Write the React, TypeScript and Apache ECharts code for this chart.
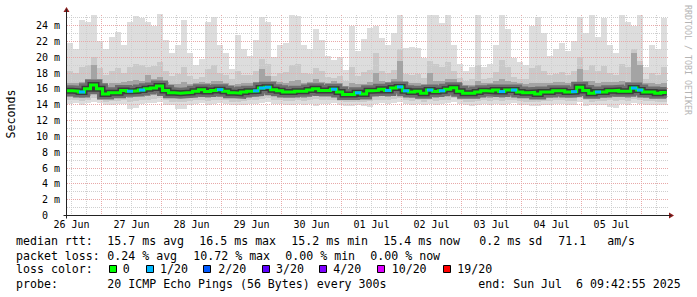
import React, { useEffect, useRef } from 'react';
import * as echarts from 'echarts';

// time in hours after 26 Jun 00:00; each column is 2.4 h
const T0 = 10;
const STEP = 2.4;
const X_END = 251.64;
const Y_MAX = 26;
const Y_TOP = 25.3;

const dayHours = [12, 36, 60, 84, 108, 132, 156, 180, 204, 228];
const dayLabels = ['26 Jun', '27 Jun', '28 Jun', '29 Jun', '30 Jun', '01 Jul', '02 Jul', '03 Jul', '04 Jul', '05 Jul'];

const gridHours = [12, 18, 24, 30, 36, 42, 48, 54, 60, 66, 72, 78, 84, 90, 96, 102, 108, 114, 120, 126, 132, 138, 144, 150, 156, 162, 168, 174, 180, 186, 192, 198, 204, 210, 216, 222, 228, 234, 240, 246];
const gridValues = [1, 2, 3, 4, 5, 6, 7, 8, 9, 10, 11, 12, 13, 14, 15, 16, 17, 18, 19, 20, 21, 22, 23, 24, 25];

// milliseconds
const maxv = [
  21.8, 21.0, 24.7, 24.5, 25.3, 22.0, 21.0, 22.6, 23.2, 21.5,
  24.5, 25.2, 25.0, 24.5, 24.0, 25.4, 22.2, 20.5, 21.6, 24.7,
  20.5, 19.0, 19.8, 24.5, 25.1, 21.5, 20.5, 18.5, 22.8, 21.0,
  20.2, 22.2, 25.1, 24.5, 20.0, 21.6, 21.8, 25.3, 25.2, 21.5,
  21.0, 23.5, 22.2, 20.2, 19.6, 20.0, 18.4, 23.9, 20.8, 22.3,
  23.7, 23.9, 22.4, 21.5, 23.0, 25.3, 21.1, 21.3, 21.1, 19.9,
  25.3, 25.3, 24.3, 25.3, 21.5, 19.1, 18.3, 18.8, 25.3, 18.7,
  19.2, 21.5, 25.3, 23.5, 19.9, 19.4, 19.0, 24.0, 25.1, 23.0,
  20.2, 21.0, 21.8, 20.8, 22.0, 25.1, 23.0, 25.3, 22.5, 24.9,
  21.5, 20.5, 25.3, 24.5, 24.0, 25.3, 18.8, 21.6, 21.0, 24.9,
];
const hi2 = [
  18.2, 18.0, 18.8, 19.0, 20.0, 18.6, 17.8, 18.3, 18.6, 18.0,
  18.8, 19.2, 19.0, 18.7, 18.9, 19.4, 18.2, 17.6, 17.9, 18.8,
  17.6, 17.3, 17.5, 18.5, 19.0, 18.0, 17.8, 17.2, 18.3, 17.8,
  17.7, 18.2, 19.8, 19.2, 17.6, 18.0, 18.1, 19.0, 19.2, 18.0,
  17.9, 18.6, 18.2, 17.5, 17.4, 17.6, 17.0, 18.7, 17.6, 18.1,
  18.4, 20.5, 18.3, 18.0, 18.4, 21.0, 17.9, 17.8, 17.9, 17.4,
  19.5, 19.2, 18.8, 19.4, 18.2, 17.4, 17.0, 17.2, 19.0, 17.2,
  17.4, 18.1, 19.6, 18.7, 17.5, 17.3, 17.2, 18.6, 19.0, 18.3,
  17.7, 17.9, 18.1, 17.8, 18.3, 20.0, 18.4, 19.0, 18.2, 18.9,
  18.0, 17.7, 19.2, 18.8, 21.0, 19.5, 17.2, 18.0, 17.8, 18.7,
];
const hi3 = [
  16.8, 16.7, 16.9, 17.2, 19.0, 17.2, 16.5, 16.7, 16.8, 16.9,
  17.0, 17.1, 17.0, 17.8, 17.2, 17.5, 16.9, 16.6, 16.6, 16.9,
  16.6, 16.7, 16.9, 16.8, 17.0, 17.0, 16.8, 16.5, 16.6, 16.7,
  16.8, 16.9, 18.5, 17.6, 17.0, 16.9, 16.7, 17.0, 17.1, 16.8,
  16.9, 17.2, 16.9, 16.8, 17.0, 16.7, 16.4, 16.7, 16.6, 16.6,
  16.9, 18.0, 17.0, 16.9, 17.3, 19.5, 16.9, 16.7, 16.8, 16.5,
  18.0, 17.0, 17.0, 17.2, 17.3, 16.8, 16.5, 16.5, 17.0, 16.8,
  16.7, 17.0, 17.2, 17.0, 16.9, 16.7, 16.6, 16.8, 16.7, 16.8,
  16.7, 16.9, 16.9, 16.7, 16.9, 18.5, 17.0, 17.0, 16.8, 16.9,
  16.9, 16.9, 17.0, 16.9, 20.5, 19.0, 16.7, 16.8, 16.6, 16.8,
];
const median = [
  15.75, 15.7, 15.6, 16.0, 16.5, 16.0, 15.35, 15.5, 15.5, 15.8,
  15.7, 15.75, 15.85, 16.0, 16.1, 16.35, 15.8, 15.5, 15.45, 15.5,
  15.55, 15.7, 15.9, 15.65, 15.8, 15.9, 15.7, 15.5, 15.45, 15.6,
  15.7, 15.75, 16.1, 16.2, 15.9, 15.75, 15.6, 15.6, 15.7, 15.7,
  15.85, 16.0, 15.8, 15.8, 15.95, 15.6, 15.3, 15.3, 15.5, 15.35,
  15.75, 15.8, 15.95, 15.8, 16.1, 16.25, 15.75, 15.6, 15.7, 15.45,
  15.85, 15.65, 15.75, 15.95, 16.15, 15.7, 15.45, 15.45, 15.6, 15.75,
  15.7, 15.85, 15.65, 15.85, 15.85, 15.6, 15.5, 15.55, 15.35, 15.6,
  15.6, 15.75, 15.75, 15.6, 15.65, 16.2, 15.8, 15.45, 15.6, 15.6,
  15.75, 15.8, 15.7, 15.7, 16.1, 15.85, 15.6, 15.6, 15.45, 15.55,
];
const lo3 = [
  15.0, 15.0, 14.9, 15.1, 15.3, 15.1, 14.8, 14.9, 14.9, 15.0,
  14.9, 15.0, 15.0, 15.1, 15.2, 15.3, 15.0, 14.8, 14.8, 14.9,
  14.9, 15.0, 15.1, 14.9, 15.0, 15.1, 15.0, 14.8, 14.8, 14.9,
  15.0, 15.0, 15.2, 15.3, 15.1, 15.0, 14.9, 14.9, 15.0, 14.9,
  15.1, 15.2, 15.0, 15.0, 15.1, 14.9, 14.7, 14.7, 14.8, 14.7,
  15.0, 15.0, 15.1, 15.0, 15.2, 15.3, 15.0, 14.9, 15.0, 14.8,
  15.0, 14.9, 15.0, 15.1, 15.3, 15.0, 14.8, 14.8, 14.9, 15.0,
  14.9, 15.1, 14.9, 15.0, 15.1, 14.9, 14.8, 14.8, 14.7, 14.9,
  14.9, 15.0, 15.0, 14.9, 14.9, 15.3, 15.0, 14.8, 14.9, 14.9,
  15.0, 15.0, 15.0, 14.9, 15.2, 15.1, 14.9, 14.9, 14.8, 14.8,
];
const lo2 = [
  14.6, 14.6, 14.5, 14.6, 14.8, 14.6, 14.4, 14.5, 14.5, 14.6,
  14.4, 14.5, 14.6, 14.6, 14.7, 14.8, 14.6, 14.4, 14.3, 14.4,
  14.5, 14.6, 14.6, 14.5, 14.6, 14.6, 14.6, 14.4, 14.4, 14.5,
  14.6, 14.6, 14.7, 14.8, 14.6, 14.6, 14.5, 14.5, 14.6, 14.5,
  14.6, 14.7, 14.6, 14.6, 14.6, 14.5, 14.3, 14.3, 14.4, 14.3,
  14.5, 14.6, 14.6, 14.6, 14.7, 14.8, 14.6, 14.5, 14.6, 14.4,
  14.6, 14.5, 14.6, 14.6, 14.8, 14.6, 14.4, 14.4, 14.5, 14.6,
  14.5, 14.6, 14.5, 14.6, 14.6, 14.5, 14.4, 14.4, 14.3, 14.5,
  14.5, 14.6, 14.6, 14.5, 14.5, 14.8, 14.6, 14.3, 14.5, 14.5,
  14.6, 14.5, 14.6, 14.5, 14.7, 14.6, 14.5, 14.5, 14.4, 14.4,
];
const minv = [
  14.1, 14.2, 14.0, 14.2, 14.3, 14.2, 13.9, 14.0, 14.1, 14.1,
  13.5, 13.6, 14.1, 14.2, 14.2, 14.3, 14.0, 13.9, 13.4, 13.5,
  13.9, 14.1, 14.2, 14.0, 14.1, 14.2, 14.1, 13.9, 13.9, 14.0,
  14.1, 14.1, 14.2, 14.3, 14.1, 14.1, 14.0, 14.0, 14.1, 14.0,
  14.1, 13.8, 14.1, 14.1, 14.2, 14.0, 13.8, 13.8, 13.9, 13.8,
  13.7, 14.1, 14.2, 14.1, 14.2, 14.3, 14.1, 14.0, 14.1, 13.9,
  14.1, 14.0, 14.1, 14.2, 14.3, 14.1, 13.9, 13.8, 14.0, 14.1,
  14.0, 14.1, 14.0, 14.1, 14.2, 14.0, 13.9, 13.8, 13.8, 14.0,
  14.0, 14.1, 14.1, 14.0, 14.0, 14.3, 13.8, 13.9, 13.9, 14.0,
  13.7, 13.6, 14.1, 14.0, 14.2, 14.1, 14.0, 14.0, 13.9, 13.9,
];
// lost pings out of 20, per column
const loss = [
  0, 0, 1, 0, 0, 0, 0, 0, 0, 0,
  1, 0, 1, 0, 0, 0, 0, 0, 0, 0,
  0, 0, 0, 0, 0, 1, 0, 0, 0, 0,
  0, 1, 1, 1, 0, 0, 0, 0, 0, 0,
  0, 0, 0, 0, 1, 0, 0, 0, 1, 0,
  0, 0, 0, 1, 0, 1, 1, 0, 0, 0,
  1, 0, 1, 0, 0, 0, 0, 0, 0, 0,
  0, 0, 1, 0, 1, 0, 0, 0, 0, 0,
  0, 0, 0, 0, 1, 0, 0, 0, 1, 0,
  0, 0, 0, 0, 1, 1, 0, 0, 0, 0,
];

const lossLevels = [0, 1, 2, 3, 4, 10, 19];
const lossNames = ['0', '1/20', '2/20', '3/20', '4/20', '10/20', '19/20'];
const lossColors = ['#00ff00', '#00b8ff', '#0059ff', '#5e00ff', '#7e00ff', '#dd00ff', '#ff0000'];

const rttLine = ['median rtt:', '15.7 ms avg', '16.5 ms max', '15.2 ms min', '15.4 ms now', '0.2 ms sd', '71.1   am/s'];
const lossLine = ['packet loss:', '0.24 % avg', '10.72 % max', '0.00 % min', '0.00 % now'];
const probeLine = ['probe:', '20 ICMP Echo Pings (56 Bytes) every 300s', 'end: Sun Jul  6 09:42:55 2025'];

const MONO = '"DejaVu Sans Mono", monospace';
const nb = (s: string) => s.replace(/ /g, '\u00a0');

function lossColor(n: number) {
  let c = lossColors[0];
  lossLevels.forEach((lv, k) => { if (n >= lv) c = lossColors[k]; });
  return c;
}

export default function App() {
  const ref = useRef<HTMLDivElement>(null);
  useEffect(() => {
    document.body.style.margin = '0';
    const chart = echarts.init(ref.current!, null, { renderer: 'svg' });

    const band = (lo: number[], hi: number[], color: string, z: number) => ({
      type: 'custom', z, silent: true,
      data: lo.map((l, i) => [T0 + i * STEP, l, hi[i]]),
      encode: { x: 0, y: [1, 2] },
      renderItem: (_p: any, api: any) => {
        const t = api.value(0);
        const a = api.coord([t, api.value(2)]);
        const b = api.coord([t + STEP, api.value(1)]);
        const x0 = Math.round(a[0]), x1 = Math.round(b[0]);
        const y0 = Math.round(a[1]), y1 = Math.round(b[1]);
        return { type: 'rect', shape: { x: x0, y: y0, width: x1 - x0, height: y1 - y0 }, style: { fill: color } };
      },
    });

    const medPts = median.map((m, i) => [T0 + i * STEP, m]);
    medPts.push([T0 + median.length * STEP, median[median.length - 1]]);

    const medLine = (width: number, color: string, z: number) => ({
      type: 'line', z, silent: true, step: 'end', showSymbol: false, symbol: 'none',
      data: medPts, lineStyle: { width, color, join: 'miter' },
    });

    const gridV = {
      type: 'custom', z: 3, silent: true,
      data: gridHours.map((h) => [h, 0]),
      encode: { x: 0, y: 1 },
      renderItem: (_p: any, api: any) => {
        const h = api.value(0);
        const a = api.coord([h, 0]);
        const b = api.coord([h, Y_TOP]);
        const x = Math.floor(a[0]) + 0.5;
        return { type: 'line', shape: { x1: x, y1: Math.round(a[1]), x2: x, y2: Math.round(b[1]) },
          style: { stroke: h % 24 === 0 ? '#e8a8a8' : '#cfcfcf', lineWidth: 1, lineDash: [1, 1] } };
      },
    };
    const gridH = {
      type: 'custom', z: 3, silent: true,
      data: gridValues.map((v) => [T0, v]),
      encode: { x: 0, y: 1 },
      renderItem: (_p: any, api: any) => {
        const v = api.value(1);
        const a = api.coord([T0, v]);
        const b = api.coord([250.8, v]);
        const y = Math.floor(a[1]) + 0.5;
        return { type: 'line', shape: { x1: Math.round(a[0]), y1: y, x2: Math.round(b[0]), y2: y },
          style: { stroke: v % 2 === 0 ? '#e8a8a8' : '#cfcfcf', lineWidth: 1, lineDash: [1, 1] } };
      },
    };

    const lossSeries = {
      type: 'custom', z: 8, silent: true,
      data: median.map((m, i) => [T0 + i * STEP, m, loss[i]]).filter((d) => d[2] > 0),
      encode: { x: 0, y: 1 },
      renderItem: (_p: any, api: any) => {
        const t = api.value(0);
        const a = api.coord([t, api.value(1)]);
        const b = api.coord([t + STEP, api.value(1)]);
        return { type: 'rect', shape: { x: Math.round(a[0]), y: a[1] - 1.5, width: Math.round(b[0]) - Math.round(a[0]), height: 3 },
          style: { fill: lossColor(api.value(2)) } };
      },
    };

    const txt = (text: string, x: number, y: number, extra: any = {}) => ({
      type: 'text', x, y, silent: true,
      style: { text: nb(text), font: `11.6px ${MONO}`, fill: '#000', align: 'left', verticalAlign: 'middle', ...extra },
    });

    const rttX = [16, 107.3, 199.3, 291.3, 383.3, 479.3, 558.3];
    const lossX = [16, 107.3, 193.3, 285.3, 370.3];
    const probeX = [16, 107.3, 478.3];
    const sqX = [108.7, 145.7, 203.3, 261.7, 319.3, 376.7, 443.3];
    const sqTextX = [122.7, 160, 218.3, 276, 333.3, 391.7, 457.3];

    const graphics: any[] = [];
    rttLine.forEach((s, i) => graphics.push(txt(s, rttX[i], 241)));
    lossLine.forEach((s, i) => graphics.push(txt(s, lossX[i], 255.5)));
    graphics.push(txt('loss color:', 16, 269.3));
    lossNames.forEach((s, i) => {
      graphics.push({ type: 'rect', silent: true, shape: { x: Math.round(sqX[i]) + 0.5, y: 265.5, width: 7, height: 7 },
        style: { fill: lossColors[i], stroke: '#000', lineWidth: 1 } });
      graphics.push(txt(s, sqTextX[i], 269.3));
    });
    probeLine.forEach((s, i) => graphics.push(txt(s, probeX[i], 283.6)));
    graphics.push({ type: 'text', x: 11, y: 114, rotation: Math.PI / 2, silent: true,
      style: { text: 'Seconds', font: `11.6px ${MONO}`, fill: '#000', align: 'center', verticalAlign: 'middle' } });
    graphics.push({ type: 'text', x: 687.5, y: 60, rotation: -Math.PI / 2, silent: true,
      style: { text: nb('RRDTOOL / TOBI OETIKER'), font: `8.3px ${MONO}`, fill: '#b4b4b4', align: 'center', verticalAlign: 'middle' } });

    const option: any = {
      animation: false,
      backgroundColor: '#ffffff',
      grid: { left: 66.5, right: 697 - 670.8, top: 9.7, bottom: 297 - 215.5, containLabel: false },
      xAxis: {
        type: 'value', min: T0, max: X_END, z: 12,
        axisLine: { show: true, onZero: false, lineStyle: { color: '#222', width: 1 } },
        axisTick: { show: false },
        splitLine: { show: false },
        axisLabel: {
          customValues: dayHours, margin: 4, fontSize: 10, fontFamily: MONO, color: '#000',
          formatter: (v: number) => nb(dayLabels[dayHours.indexOf(v)] ?? ''),
        },
      },
      yAxis: {
        type: 'value', min: 0, max: Y_MAX, interval: 2, z: 12,
        axisLine: { show: true, onZero: false, lineStyle: { color: '#222', width: 1 } },
        axisTick: { show: false },
        splitLine: { show: false },
        axisLabel: {
          margin: 6.5, fontSize: 10, fontFamily: MONO, color: '#000',
          formatter: (v: number) => (v === 0 ? '0\u00a0\u00a0' : v <= 24 ? `${v}\u00a0m` : ''),
        },
      },
      series: [
        band(minv, maxv, '#dddddd', 1),
        band(lo2, hi2, '#c9c9c9', 2),
        gridV,
        gridH,
        band(lo3, hi3, '#a4a4a4', 4),
        medLine(11, '#6e6e6e', 5),
        medLine(6, '#3c3c3c', 6),
        medLine(3, '#00ff00', 7),
        lossSeries,
      ],
      graphic: { elements: graphics },
    };
    chart.setOption(option);

    // axis arrows at the ends of the axes, placed from the axes' own scale
    const xEnd = chart.convertToPixel({ gridIndex: 0 }, [X_END, 0]) as number[];
    const yEnd = chart.convertToPixel({ gridIndex: 0 }, [T0, Y_MAX]) as number[];
    const origin = chart.convertToPixel({ gridIndex: 0 }, [T0, 0]) as number[];
    const ax = Math.round(xEnd[0]), ay = Math.floor(origin[1]) + 0.5;
    const bx = Math.floor(origin[0]) + 0.5, by = Math.round(yEnd[1]);
    chart.setOption({
      graphic: {
        elements: [
          ...graphics,
          { type: 'line', silent: true, shape: { x1: bx, y1: ay, x2: bx, y2: ay + 3 }, style: { stroke: '#222', lineWidth: 1 } },
          { type: 'line', silent: true, shape: { x1: bx - 3, y1: ay, x2: bx, y2: ay }, style: { stroke: '#222', lineWidth: 1 } },
          { type: 'polygon', silent: true, shape: { points: [[ax - 2, ay - 3], [ax + 3, ay], [ax - 2, ay + 3]] }, style: { fill: '#8b1a1a' } },
          { type: 'polygon', silent: true, shape: { points: [[bx - 3, by + 2], [bx, by - 3], [bx + 3, by + 2]] }, style: { fill: '#8b1a1a' } },
        ],
      },
    }, { replaceMerge: ['graphic'] });
    return () => chart.dispose();
  }, []);
  return <div ref={ref} style={{ width: 697, height: 297, position: 'fixed', left: 0, top: 0, background: '#fff' }} />;
}
